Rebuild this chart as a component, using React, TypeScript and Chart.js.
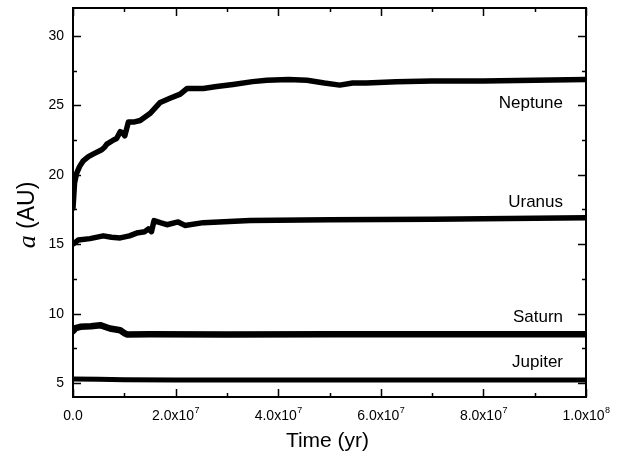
import React, { useEffect, useRef } from "react";
import { Chart, registerables } from "chart.js";

Chart.register(...registerables);

// Time (yr) and semi-major axis a (AU) for each planet
const neptuneT = [0, 0.03e7, 0.07e7, 0.13e7, 0.2e7, 0.3e7, 0.4e7, 0.56e7, 0.62e7, 0.66e7, 0.79e7, 0.85e7, 0.92e7, 0.97e7, 1.01e7, 1.08e7, 1.2e7, 1.31e7, 1.5e7, 1.7e7, 1.89e7, 2.09e7, 2.22e7, 2.54e7, 2.8e7, 3.12e7, 3.5e7, 3.78e7, 4.2e7, 4.56e7, 4.9e7, 5.2e7, 5.45e7, 5.72e7, 6.3e7, 7.0e7, 8.0e7, 9.0e7, 1.0e8];
const neptuneA = [17.6, 19.4, 20.1, 20.6, 21.0, 21.3, 21.5, 21.8, 22.0, 22.2, 22.5, 22.6, 23.1, 23.0, 22.8, 23.8, 23.8, 23.9, 24.4, 25.2, 25.5, 25.8, 26.2, 26.2, 26.35, 26.5, 26.7, 26.8, 26.85, 26.8, 26.6, 26.45, 26.6, 26.6, 26.7, 26.75, 26.75, 26.8, 26.85];

const uranusT = [0, 0.1e7, 0.33e7, 0.59e7, 0.75e7, 0.92e7, 1.1e7, 1.24e7, 1.4e7, 1.47e7, 1.53e7, 1.58e7, 1.7e7, 1.83e7, 2.05e7, 2.18e7, 2.54e7, 3.45e7, 5.0e7, 7.0e7, 8.5e7, 1.0e8];
const uranusA = [15.0, 15.3, 15.4, 15.6, 15.5, 15.45, 15.6, 15.8, 15.9, 16.1, 15.9, 16.7, 16.55, 16.4, 16.6, 16.35, 16.55, 16.7, 16.75, 16.8, 16.85, 16.9];

const saturnT = [0, 0.05e7, 0.14e7, 0.35e7, 0.53e7, 0.72e7, 0.92e7, 1.0e7, 1.05e7, 1.5e7, 3.0e7, 5.0e7, 7.0e7, 1.0e8];
const saturnA = [8.75, 8.95, 9.05, 9.1, 9.17, 8.93, 8.8, 8.6, 8.5, 8.52, 8.5, 8.52, 8.52, 8.52];

const jupiterT = [0, 0.5e7, 1.0e7, 2.0e7, 5.0e7, 1.0e8];
const jupiterA = [5.3, 5.28, 5.25, 5.22, 5.22, 5.22];

const planetNames = ["Neptune", "Uranus", "Saturn", "Jupiter"];
const labelA = [25.15, 18.0, 9.75, 6.5];

const xMajorTicks = [0, 2e7, 4e7, 6e7, 8e7, 1e8];
const xMinorTicks = [1e7, 3e7, 5e7, 7e7, 9e7];
const xTickMantissa = ["0.0", "2.0x10", "4.0x10", "6.0x10", "8.0x10", "1.0x10"];
const xTickExponent = ["", "7", "7", "7", "7", "8"];
const yMajorTicks = [5, 10, 15, 20, 25, 30];
const yMinorTicks = [7.5, 12.5, 17.5, 22.5, 27.5];

const toPoints = (t: number[], a: number[]) => t.map((v, i) => ({ x: v, y: a[i] }));

const overlay = {
  id: "overlay",
  afterDraw(chart: any) {
    const ctx = chart.ctx as CanvasRenderingContext2D;
    const { left, right, top, bottom } = chart.chartArea;
    const xs = chart.scales.x;
    const ys = chart.scales.y;
    ctx.save();
    ctx.strokeStyle = "#000";
    ctx.fillStyle = "#000";
    ctx.lineWidth = 2;
    ctx.strokeRect(left, top, right - left, bottom - top);
    ctx.lineWidth = 1.5;
    const major = 8, minor = 4;
    ctx.beginPath();
    xMajorTicks.forEach((v) => {
      const px = Math.round(xs.getPixelForValue(v)) + 0.5;
      ctx.moveTo(px, bottom); ctx.lineTo(px, bottom - major);
      ctx.moveTo(px, top); ctx.lineTo(px, top + major);
    });
    xMinorTicks.forEach((v) => {
      const px = Math.round(xs.getPixelForValue(v)) + 0.5;
      ctx.moveTo(px, bottom); ctx.lineTo(px, bottom - minor);
      ctx.moveTo(px, top); ctx.lineTo(px, top + minor);
    });
    yMajorTicks.forEach((v) => {
      const py = Math.round(ys.getPixelForValue(v)) + 0.5;
      ctx.moveTo(left, py); ctx.lineTo(left + major, py);
      ctx.moveTo(right, py); ctx.lineTo(right - major, py);
    });
    yMinorTicks.forEach((v) => {
      const py = Math.round(ys.getPixelForValue(v)) + 0.5;
      ctx.moveTo(left, py); ctx.lineTo(left + minor, py);
      ctx.moveTo(right, py); ctx.lineTo(right - minor, py);
    });
    ctx.stroke();

    // y tick labels
    ctx.font = "14px 'Liberation Sans', Arial, sans-serif";
    ctx.textAlign = "right";
    ctx.textBaseline = "middle";
    yMajorTicks.forEach((v) => {
      ctx.fillText(String(v), left - 9, ys.getPixelForValue(v));
    });

    // x tick labels with superscript exponent
    ctx.textBaseline = "alphabetic";
    ctx.textAlign = "left";
    xMajorTicks.forEach((v, i) => {
      ctx.font = "14px 'Liberation Sans', Arial, sans-serif";
      const m = xTickMantissa[i];
      const mw = ctx.measureText(m).width;
      ctx.font = "9px 'Liberation Sans', Arial, sans-serif";
      const e = xTickExponent[i];
      const ew = e ? ctx.measureText(e).width : 0;
      const total = mw + ew;
      const cx = xs.getPixelForValue(v);
      const x0 = cx - total / 2;
      const base = bottom + 23;
      ctx.font = "14px 'Liberation Sans', Arial, sans-serif";
      ctx.fillText(m, x0, base);
      if (e) {
        ctx.font = "9px 'Liberation Sans', Arial, sans-serif";
        ctx.fillText(e, x0 + mw + 0.5, base - 7);
      }
    });

    // x axis title
    ctx.font = "21px 'Liberation Sans', Arial, sans-serif";
    ctx.textAlign = "center";
    ctx.textBaseline = "middle";
    ctx.fillText("Time (yr)", (left + right) / 2 - 2, 441);

    // y axis title: italic a (AU)
    ctx.save();
    ctx.translate(28, 215);
    ctx.rotate(-Math.PI / 2);
    ctx.textBaseline = "middle";
    ctx.font = "italic 26px 'Liberation Serif', 'Times New Roman', serif";
    const aw = ctx.measureText("a").width;
    ctx.font = "23px 'Liberation Sans', Arial, sans-serif";
    const rest = " (AU)";
    const rw = ctx.measureText(rest).width;
    const start = -(aw + rw) / 2;
    ctx.textAlign = "left";
    ctx.font = "italic 26px 'Liberation Serif', 'Times New Roman', serif";
    ctx.fillText("a", start, 0);
    ctx.font = "23px 'Liberation Sans', Arial, sans-serif";
    ctx.fillText(rest, start + aw, 0);
    ctx.restore();

    // planet labels
    ctx.font = "17px 'Liberation Sans', Arial, sans-serif";
    ctx.textAlign = "right";
    ctx.textBaseline = "middle";
    planetNames.forEach((n, i) => {
      ctx.fillText(n, 563, ys.getPixelForValue(labelA[i]));
    });
    ctx.restore();
  },
};

export default function App() {
  const ref = useRef<HTMLCanvasElement | null>(null);
  useEffect(() => {
    document.body.style.margin = "0";
    const canvas = ref.current!;
    const mk = (label: string, t: number[], a: number[], w: number) => ({
      label,
      data: toPoints(t, a),
      borderColor: "#000",
      backgroundColor: "#000",
      borderWidth: w,
      pointRadius: 0,
      tension: 0,
      borderJoinStyle: "round" as const,
      borderCapStyle: "round" as const,
    });
    const chart = new Chart(canvas, {
      type: "line",
      data: {
        datasets: [
          mk("Neptune", neptuneT, neptuneA, 5.5),
          mk("Uranus", uranusT, uranusA, 5.5),
          mk("Saturn", saturnT, saturnA, 6.5),
          mk("Jupiter", jupiterT, jupiterA, 5),
        ],
      },
      options: {
        animation: false,
        responsive: false,
        maintainAspectRatio: false,
        layout: { padding: { left: 73, top: 8, right: 38, bottom: 64 } },
        plugins: { legend: { display: false }, tooltip: { enabled: false } },
        scales: {
          x: { type: "linear", min: 0, max: 1e8, display: false },
          y: { type: "linear", min: 4, max: 32, display: false },
        },
      },
      plugins: [overlay],
    });
    return () => chart.destroy();
  }, []);
  return <canvas ref={ref} width={624} height={461} style={{ display: "block" }} />;
}
